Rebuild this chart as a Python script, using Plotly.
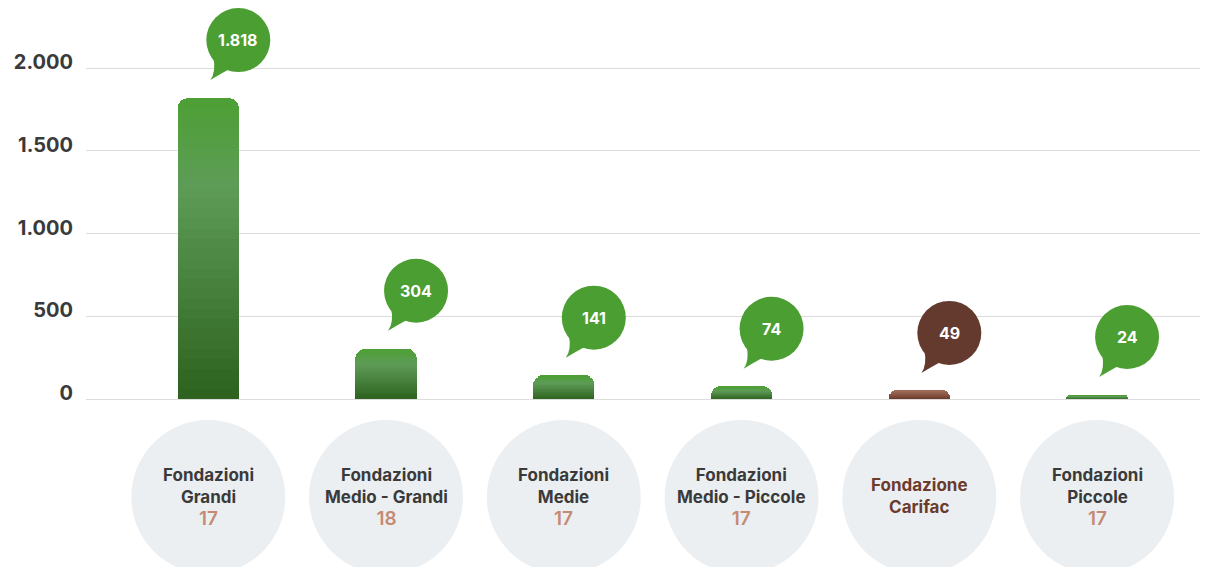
import plotly.graph_objects as go

# data
categories = ["Fondazioni Grandi", "Fondazioni Medio - Grandi", "Fondazioni Medie",
              "Fondazioni Medio - Piccole", "Fondazione Carifac", "Fondazioni Piccole"]
line1 = ["Fondazioni", "Fondazioni", "Fondazioni", "Fondazioni", "Fondazione", "Fondazioni"]
line2 = ["Grandi", "Medio - Grandi", "Medie", "Medio - Piccole", "Carifac", "Piccole"]
counts = ["17", "18", "17", "17", "", "17"]
values = [1818, 304, 141, 74, 49, 24]
is_carifac = [False, False, False, False, True, False]
ytickvals = [0, 500, 1000, 1500, 2000]

GREEN = "#4b9e31"
BROWN = "#653a2e"
FONT = "Inter"


def mix(c1, c2, t):
    return tuple(a + (b - a) * t for a, b in zip(c1, c2))


def grad(t, brown):
    # t = 0 bottom, 1 top
    if brown:
        c = mix((104, 56, 40), (158, 108, 88), t)
    elif t < 0.7:
        c = mix((44, 98, 30), (94, 156, 88), t / 0.7)
    else:
        c = mix((94, 156, 88), (78, 160, 52), (t - 0.7) / 0.3)
    return "rgb(%d,%d,%d)" % c


fig = go.Figure()

# gradient bars: each bar stacked from thin slices of its own value
N = 30
for k in range(N):
    t = (k + 0.5) / N
    fig.add_trace(go.Bar(
        x=categories, y=[v / N for v in values],
        marker=dict(color=[grad(t, b) for b in is_carifac], line=dict(width=0)),
        width=0.345, hoverinfo="skip", showlegend=False))

R = 32
DX, DY = 30, 58
for cat, v, b in zip(categories, values, is_carifac):
    col = BROWN if b else GREEN
    fig.add_shape(type="circle", xref="x", yref="y", xsizemode="pixel", ysizemode="pixel",
                  xanchor=cat, yanchor=v, x0=DX - R, x1=DX + R, y0=DY - R, y1=DY + R,
                  fillcolor=col, line=dict(width=0), layer="above")
    fig.add_shape(type="path", xref="x", yref="y", xsizemode="pixel", ysizemode="pixel",
                  xanchor=cat, yanchor=v,
                  path="M %d,%d Q %d,%d %d,%d Q %d,%d %d,%d Z" % (
                      DX - 25, DY - 17, DX - 22, DY - 32, DX - 28, DY - 40,
                      DX - 18, DY - 34, DX - 7, DY - 28),
                  fillcolor=col, line=dict(width=0), layer="above")
    fig.add_annotation(x=cat, y=v, xref="x", yref="y", xshift=DX, yshift=DY,
                       text="{:,}".format(v).replace(",", "."), showarrow=False,
                       font=dict(family=FONT, size=16, color="white", weight="bold"))

# grey discs with category labels under the axis
for cat, l1, l2, n, b in zip(categories, line1, line2, counts, is_carifac):
    fig.add_shape(type="circle", xref="x", yref="paper", xsizemode="pixel", ysizemode="pixel",
                  xanchor=cat, yanchor=0, x0=-77, x1=77, y0=-98 - 77, y1=-98 + 77,
                  fillcolor="#eceff2", line=dict(width=0), layer="below")
    if b:
        txt = "<span style='color:#6b3b2c'>%s<br>%s</span>" % (l1, l2)
        ys = -97
    else:
        txt = ("%s<br>%s<br><span style='color:#c48b74;font-size:19px;font-weight:600'>%s</span>"
               % (l1, l2, n))
        ys = -98
    fig.add_annotation(x=cat, y=0, xref="x", yref="paper", yshift=ys, yanchor="middle",
                       text=txt, showarrow=False, align="center",
                       font=dict(family=FONT, size=17, color="#3a3a3a", weight="bold"))

# page body has an 8px margin, so the figure is 8px smaller than the window
fig.update_layout(
    width=1206, height=559,
    margin=dict(l=78, r=14, t=0, b=168),
    barmode="stack", barcornerradius=10,
    plot_bgcolor="white", paper_bgcolor="white",
    separators=",.",
    xaxis=dict(range=[-0.688, 5.579], showticklabels=False, showgrid=False,
               zeroline=False, showline=False, fixedrange=True),
    yaxis=dict(range=[0, 2000 * 391 / 331], tickvals=ytickvals, tickformat=",d",
               gridcolor="#dcdcdc", gridwidth=1, zeroline=True, zerolinecolor="#dcdcdc",
               zerolinewidth=1, showline=False, ticklabelstandoff=12, ticklabelshift=-6,
               tickfont=dict(family=FONT, size=20, color="#3a3a3a", weight="bold")),
)

fig.write_html("out.html")
